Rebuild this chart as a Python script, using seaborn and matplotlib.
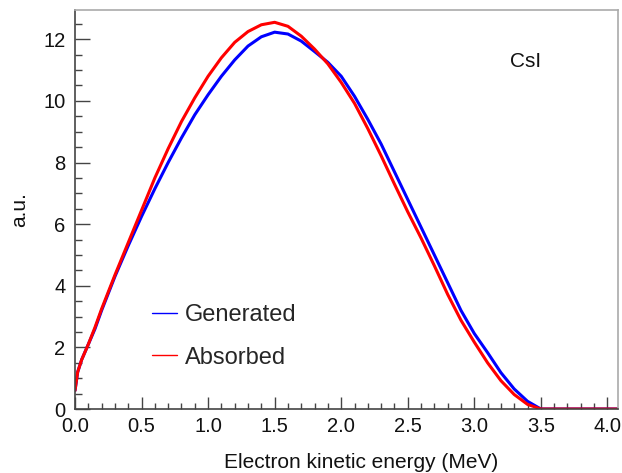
import numpy as np
import pandas as pd
import matplotlib
matplotlib.use('Agg')
import matplotlib.pyplot as plt
import seaborn as sns
from matplotlib.ticker import MultipleLocator

# values (MeV, a.u.)
energy = [0.0, 0.02, 0.05, 0.1, 0.15, 0.2, 0.3, 0.4, 0.5, 0.6, 0.7, 0.8, 0.9, 1.0,
          1.1, 1.2, 1.3, 1.4, 1.5, 1.6, 1.7, 1.8, 1.9, 2.0, 2.1, 2.2, 2.3, 2.4, 2.5,
          2.6, 2.7, 2.8, 2.9, 3.0, 3.1, 3.2, 3.3, 3.4, 3.5, 3.6, 3.8, 4.0, 4.1]
generated = [0.6, 1.2, 1.6, 2.1, 2.6, 3.2, 4.3, 5.3, 6.25, 7.15, 8.0, 8.8, 9.55, 10.2,
             10.8, 11.33, 11.78, 12.08, 12.23, 12.17, 11.94, 11.6, 11.25, 10.8, 10.15, 9.4, 8.6, 7.7, 6.8,
             5.9, 5.0, 4.1, 3.2, 2.45, 1.83, 1.18, 0.65, 0.25, 0.0, 0.0, 0.0, 0.0, 0.0]
absorbed = [0.6, 1.2, 1.6, 2.1, 2.65, 3.25, 4.35, 5.4, 6.45, 7.5, 8.45, 9.33, 10.1, 10.8,
            11.4, 11.9, 12.25, 12.47, 12.55, 12.42, 12.1, 11.68, 11.2, 10.6, 9.92, 9.1, 8.22, 7.3, 6.4,
            5.55, 4.65, 3.72, 2.88, 2.17, 1.5, 0.92, 0.47, 0.15, 0.0, 0.0, 0.0, 0.0, 0.0]
series_names = ['Generated', 'Absorbed']
series_colors = ['#0000ff', '#ff0000']

df = pd.concat([
    pd.DataFrame({'E': energy, 'y': generated, 'series': series_names[0]}),
    pd.DataFrame({'E': energy, 'y': absorbed, 'series': series_names[1]}),
])

sns.set_theme(style='white')
plt.rcParams['font.family'] = ['Liberation Sans', 'DejaVu Sans']

fig = plt.figure(figsize=(6.22, 4.73), dpi=100)
ax = fig.add_axes([0.1206, 0.1353, 0.873, 0.8436])

sns.lineplot(data=df, x='E', y='y', hue='series', hue_order=series_names,
             palette=dict(zip(series_names, series_colors)), linewidth=2.2,
             sort=False, estimator=None, ax=ax)

ax.set_xlim(0, 4.08)
ax.set_ylim(0, 12.95)
ax.xaxis.set_major_locator(MultipleLocator(0.5))
ax.xaxis.set_minor_locator(MultipleLocator(0.1))
ax.yaxis.set_major_locator(MultipleLocator(2))
ax.yaxis.set_minor_locator(MultipleLocator(0.5))
ax.xaxis.set_major_formatter(matplotlib.ticker.FormatStrFormatter('%.1f'))

ax.tick_params(axis='both', which='both', direction='in', bottom=True, left=True,
               top=False, right=False, color='#444444', width=1.0,
               labelsize=14.5, labelcolor='#111111')
ax.tick_params(axis='x', which='major', length=9, pad=6)
ax.tick_params(axis='x', which='minor', length=4.5)
ax.tick_params(axis='y', which='major', length=10.5, pad=7)
ax.tick_params(axis='y', which='minor', length=5)

for side in ['left', 'bottom']:
    ax.spines[side].set_color('#444444')
    ax.spines[side].set_linewidth(1.2)
for side in ['top', 'right']:
    ax.spines[side].set_color('#aaaaaa')
    ax.spines[side].set_linewidth(1.2)

ax.set_xlabel('Electron kinetic energy (MeV)', fontsize=15, color='#111111')
ax.set_ylabel('a.u.', fontsize=15, color='#111111')
ax.xaxis.set_label_coords(0.527, -0.11)
ax.yaxis.set_label_coords(-0.085, 0.5)

ax.text(0.83, 0.87, 'CsI', transform=ax.transAxes, fontsize=15,
        ha='center', va='center', color='#111111')

leg = ax.legend(loc='upper left', bbox_to_anchor=(0.142, 0.262), frameon=False,
                fontsize=17, handlelength=1.05, handletextpad=0.35,
                labelspacing=0.85, borderpad=0, borderaxespad=0)
for line in leg.get_lines():
    line.set_linewidth(1.0)

fig.savefig('out.png', dpi=100)
